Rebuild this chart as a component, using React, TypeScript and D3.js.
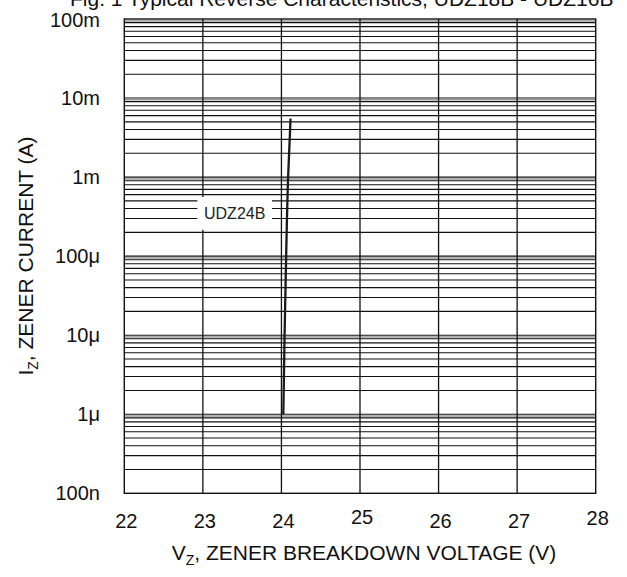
import React from "react";
import * as d3 from "d3";

const title = "Fig. 1 Typical Reverse Characteristics, UDZ18B - UDZ16B";
const xTicks = [22, 23, 24, 25, 26, 27, 28];
const xTickDy = [0, 0, 0, -4, 0, 0, -3];
const yDecades = [1e-7, 1e-6, 1e-5, 1e-4, 1e-3, 1e-2, 1e-1];
const yTickLabels = ["100n", "1\u03bc", "10\u03bc", "100\u03bc", "1m", "10m", "100m"];
const minorMult = [2, 3, 4, 5, 6, 7, 8, 9];
const seriesName = "UDZ24B";
const seriesV = [24.024, 24.04, 24.06, 24.085, 24.116];
const seriesI = [1e-6, 1e-5, 1e-4, 1e-3, 5.5e-3];

const W = 627;
const H = 577;
const font = "'Liberation Sans', Arial, sans-serif";

export default function App() {
  const x = d3.scaleLinear().domain([22, 28]).range([124.3, 595.7]);
  const y = d3.scaleLog().domain([1e-7, 1e-1]).range([493.3, 19]);
  const [x0, x1] = x.range();
  const [yb, yt] = y.range();

  const hLines: { v: number; major: boolean }[] = [];
  yDecades.forEach((d, i) => {
    if (i > 0 && i < yDecades.length - 1) hLines.push({ v: d, major: true });
    if (i < yDecades.length - 1) minorMult.forEach((m) => hLines.push({ v: d * m, major: false }));
  });

  const pts: [number, number][] = seriesV.map((v, i) => [x(v), y(seriesI[i])]);
  const line = d3.line().curve(d3.curveMonotoneY)(pts.slice().reverse()) || "";

  const bx0 = x(22.93);
  const bx1 = x(23.88);
  const by0 = y(5.6e-4);
  const by1 = y(2.15e-4);

  return (
    <svg
      width={W}
      height={H}
      style={{ position: "absolute", left: 0, top: 0, background: "#fff" }}
      fontFamily={font}
    >
      <rect width={W} height={H} fill="#fff" />
      <text x={70} y={5.5} fontSize={21} fill="#111">{title}</text>

      {/* horizontal grid */}
      {hLines.map((h, i) => (
        <g key={"h" + i}>
          {h.major && (
            <line x1={x0} x2={x1} y1={y(h.v) + 1.8} y2={y(h.v) + 1.8} stroke="#999" strokeWidth={1.5} />
          )}
          <line x1={x0} x2={x1} y1={y(h.v)} y2={y(h.v)} stroke="#111" strokeWidth={1.1} />
        </g>
      ))}
      <line x1={x0} x2={x1} y1={yt + 2} y2={yt + 2} stroke="#999" strokeWidth={1.5} />

      {/* vertical grid */}
      {xTicks.slice(1, -1).map((t) => (
        <line key={"v" + t} x1={x(t)} x2={x(t)} y1={yt} y2={yb} stroke="#111" strokeWidth={1.3} />
      ))}

      {/* frame */}
      <rect x={x0} y={yt} width={x1 - x0} height={yb - yt} fill="none" stroke="#111" strokeWidth={1.4} />

      {/* label box */}
      <rect x={bx0} y={by0} width={bx1 - bx0} height={by1 - by0} fill="#fff" />
      <text x={(bx0 + bx1) / 2} y={(by0 + by1) / 2 + 6} fontSize={16} textAnchor="middle" fill="#222">
        {seriesName}
      </text>

      {/* curve */}
      <path d={line} fill="none" stroke="#1a1a1a" strokeWidth={2.3} />

      {/* y tick labels */}
      {yDecades.map((d, i) => (
        <text key={"yl" + i} x={100} y={y(d) + (i === yDecades.length - 1 ? 8 : 7)} fontSize={20} textAnchor="end" fill="#111">
          {yTickLabels[i]}
        </text>
      ))}

      {/* x tick labels */}
      {xTicks.map((t, i) => (
        <text key={"xl" + t} x={x(t) + 2} y={528 + xTickDy[i]} fontSize={20} textAnchor="middle" fill="#111">
          {t}
        </text>
      ))}

      {/* axis titles */}
      <text x={(x0 + x1) / 2 + 4} y={560} fontSize={21} textAnchor="middle" fill="#111">
        V<tspan fontSize={14} dy={5}>Z</tspan>
        <tspan dy={-5}>, ZENER BREAKDOWN VOLTAGE (V)</tspan>
      </text>
      <text
        transform={`translate(33,256) rotate(-90)`}
        fontSize={21}
        textAnchor="middle"
        fill="#111"
      >
        I<tspan fontSize={14} dy={5}>Z</tspan>
        <tspan dy={-5}>, ZENER CURRENT (A)</tspan>
      </text>
    </svg>
  );
}
